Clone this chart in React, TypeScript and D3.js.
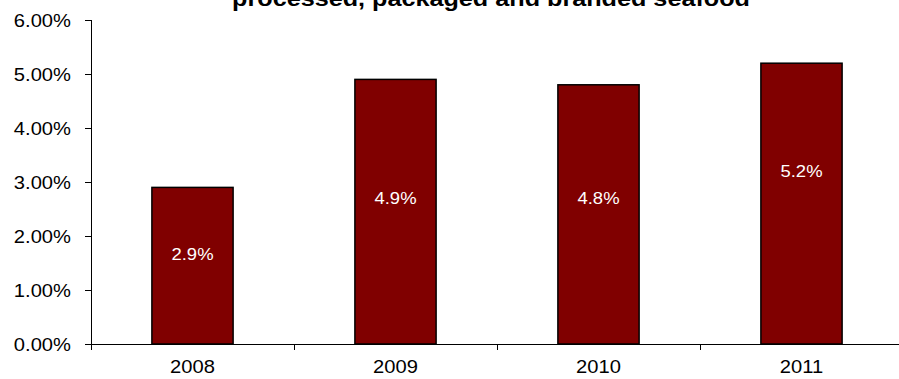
import React, { useEffect, useRef } from "react";
import * as d3 from "d3";

const categories = ["2008", "2009", "2010", "2011"];
const values = [2.9, 4.9, 4.8, 5.2];
const valueLabels = ["2.9%", "4.9%", "4.8%", "5.2%"];
const labelAt = [1.55, 2.6, 2.6, 3.1];
const yTicks = [0, 1, 2, 3, 4, 5, 6];
const title = "processed, packaged and branded seafood";

export default function App() {
  const ref = useRef<SVGSVGElement>(null);
  useEffect(() => {
    const svg = d3.select(ref.current);
    svg.selectAll("*").remove();
    const W = 899;
    const left = 91, right = 903, top = 20, bottom = 344;
    const x = d3.scaleBand().domain(categories).range([left, right]).paddingInner(0.6).paddingOuter(0.3);
    const xb = d3.scaleBand().domain(categories).range([left, right]);
    const y = d3.scaleLinear().domain([0, 6]).range([bottom, top]);
    const font = "Arial, 'Liberation Sans', sans-serif";
    const sx = 1.12;
    const txt = (px: number, py: number, s: string, size: number, anchor: string, fill = "#000", weight = "normal") =>
      svg.append("text").attr("transform", `translate(${px},${py}) scale(${sx},1)`)
        .attr("text-anchor", anchor).attr("fill", fill).attr("font-weight", weight)
        .attr("font-family", font).attr("font-size", size).text(s);

    txt(491, 6, title, 22.5, "middle", "#000", "bold");

    // bars
    svg.selectAll("rect.bar").data(values).enter().append("rect")
      .attr("x", (_, i) => x(categories[i])!)
      .attr("width", x.bandwidth())
      .attr("y", (d) => y(d))
      .attr("height", (d) => y(0) - y(d))
      .attr("fill", "#800000").attr("stroke", "#000").attr("stroke-width", 1.5);

    valueLabels.forEach((v, i) => {
      txt(x(categories[i])! + x.bandwidth() / 2, y(labelAt[i]), v, 16.5, "middle", "#fff");
    });

    // y axis
    svg.append("line").attr("x1", left + 0.5).attr("x2", left + 0.5).attr("y1", top).attr("y2", bottom)
      .attr("stroke", "#000").attr("stroke-width", 1);
    yTicks.forEach((t) => {
      svg.append("line").attr("x1", left - 6).attr("x2", left).attr("y1", Math.round(y(t)) + 0.5).attr("y2", Math.round(y(t)) + 0.5)
        .attr("stroke", "#000");
      txt(71, y(t) + 6.5, t.toFixed(2) + "%", 18, "end");
    });

    // x axis
    svg.append("line").attr("x1", left).attr("x2", W).attr("y1", bottom + 0.5).attr("y2", bottom + 0.5)
      .attr("stroke", "#000");
    categories.forEach((c) => {
      const bx = Math.round(xb(c)!) + 0.5;
      svg.append("line").attr("x1", bx).attr("x2", bx).attr("y1", bottom).attr("y2", bottom + 6).attr("stroke", "#000");
      txt(xb(c)! + xb.bandwidth() / 2, 373, c, 18, "middle");
    });
    const last = Math.round(xb("2011")! + xb.bandwidth()) + 0.5;
    svg.append("line").attr("x1", last).attr("x2", last).attr("y1", bottom).attr("y2", bottom + 6).attr("stroke", "#000");
  }, []);
  return (
    <svg ref={ref} width={899} height={379} style={{ position: "absolute", left: 0, top: 0, display: "block" }} />
  );
}
